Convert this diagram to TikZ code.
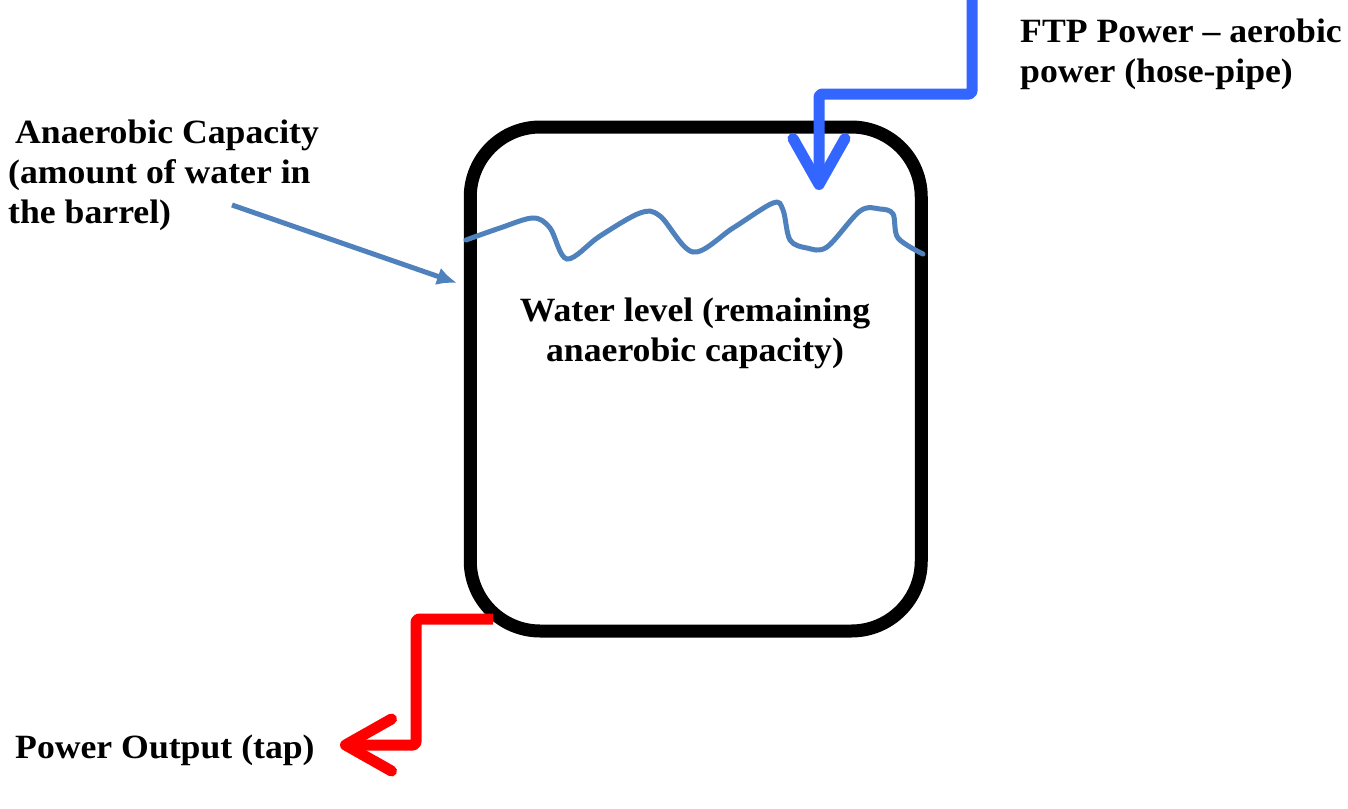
\documentclass[tikz,border=0pt]{standalone}
\usepackage{fontspec}
\setmainfont{Liberation Serif}[FakeStretch=1.05]
\usetikzlibrary{arrows.meta}
\definecolor{hoseblue}{HTML}{3366FF}
\definecolor{waveblue}{HTML}{4F81BD}
\definecolor{tapred}{HTML}{FF0000}
\tikzset{
  lbl/.style={inner sep=0pt, font=\bfseries\fontsize{34}{40}\selectfont},
  pipe/.style={line width=11pt, line join=round, rounded corners=3pt},
  barb/.style={-{Straight Barb[length=46pt,width=52pt,round]}},
  wave/.style={waveblue, line width=5pt, line cap=round},
}
\begin{document}
\begin{tikzpicture}[x=1pt,y=-1pt]
\useasboundingbox (0,0) rectangle (1348,808);
\fill[white] (0,0) rectangle (1348,808);
% barrel
\node[draw, line width=13pt, rounded corners=70pt, minimum width=451pt, minimum height=504pt, inner sep=0pt] (barrel) at (695.75,379) {};
% water surface
\draw[wave] plot[smooth, tension=0.55] coordinates {(466,240) (500,228) (533,218) (550,228) (567,259) (600,236) (640,213) (660,216) (693,252) (733,228) (773,203) (783,210) (790,240) (807,248) (827,247) (860,211) (880,209) (893,214) (898,238) (923,254)};
% labels
\node[lbl, anchor=base west, align=left] (ftp) at (1020,82) {FTP Power -- aerobic\\power (hose-pipe)};
\node[lbl, anchor=base west, align=left] (anaer) at (8,223) {\hspace*{7pt}Anaerobic Capacity\\(amount of water in\\the barrel)};
\node[lbl, anchor=base, align=center] (level) at (695,361) {Water level (remaining\\anaerobic capacity)};
\node[lbl, anchor=base west] (tap) at (15,758) {Power Output (tap)};
% hose arrow
\coordinate (hoseTop) at (972,0);
\coordinate (hoseIn) at (819,190);
\draw[pipe, hoseblue, barb] (hoseTop) |- (900,94) -| (hoseIn);
% tap arrow
\coordinate (tapStart) at (493,619);
\coordinate (tapEnd) at (340,745);
\draw[pipe, tapred, barb] (tapStart) -| (416,700) |- (tapEnd);
% anaerobic pointer
\coordinate (anaTail) at (232,205);
\coordinate (anaHead) at (457,283);
\draw[waveblue, line width=5pt, -{Latex[length=20pt,width=18pt]}] (anaTail) -- (anaHead);
\end{tikzpicture}
\end{document}
